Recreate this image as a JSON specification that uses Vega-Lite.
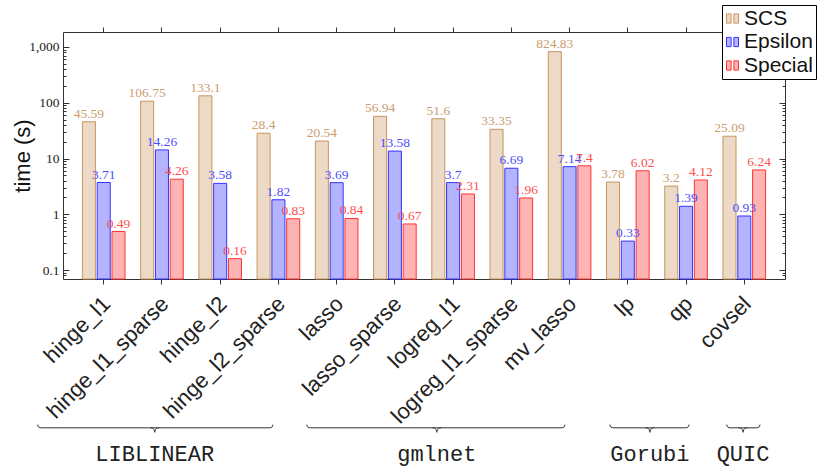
{
  "$schema": "https://vega.github.io/schema/vega-lite/v6.json",
  "width": 722,
  "height": 247,
  "autosize": {"type": "none"},
  "padding": {"left": 63, "top": 32, "right": 33, "bottom": 189},
  "background": "white",
  "config": {
    "view": {"stroke": null},
    "axis": {"domainColor": "#333", "tickColor": "#333", "domainWidth": 1, "tickWidth": 1, "grid": false}
  },
  "datasets": {
    "times": [
      {"cat": "hinge_l1", "solver": "SCS", "time": 45.59},
      {"cat": "hinge_l1", "solver": "Epsilon", "time": 3.71},
      {"cat": "hinge_l1", "solver": "Special", "time": 0.49},
      {"cat": "hinge_l1_sparse", "solver": "SCS", "time": 106.75},
      {"cat": "hinge_l1_sparse", "solver": "Epsilon", "time": 14.26},
      {"cat": "hinge_l1_sparse", "solver": "Special", "time": 4.26},
      {"cat": "hinge_l2", "solver": "SCS", "time": 133.1},
      {"cat": "hinge_l2", "solver": "Epsilon", "time": 3.58},
      {"cat": "hinge_l2", "solver": "Special", "time": 0.16},
      {"cat": "hinge_l2_sparse", "solver": "SCS", "time": 28.4},
      {"cat": "hinge_l2_sparse", "solver": "Epsilon", "time": 1.82},
      {"cat": "hinge_l2_sparse", "solver": "Special", "time": 0.83},
      {"cat": "lasso", "solver": "SCS", "time": 20.54},
      {"cat": "lasso", "solver": "Epsilon", "time": 3.69},
      {"cat": "lasso", "solver": "Special", "time": 0.84},
      {"cat": "lasso_sparse", "solver": "SCS", "time": 56.94},
      {"cat": "lasso_sparse", "solver": "Epsilon", "time": 13.58},
      {"cat": "lasso_sparse", "solver": "Special", "time": 0.67},
      {"cat": "logreg_l1", "solver": "SCS", "time": 51.6},
      {"cat": "logreg_l1", "solver": "Epsilon", "time": 3.7},
      {"cat": "logreg_l1", "solver": "Special", "time": 2.31},
      {"cat": "logreg_l1_sparse", "solver": "SCS", "time": 33.35},
      {"cat": "logreg_l1_sparse", "solver": "Epsilon", "time": 6.69},
      {"cat": "logreg_l1_sparse", "solver": "Special", "time": 1.96},
      {"cat": "mv_lasso", "solver": "SCS", "time": 824.83},
      {"cat": "mv_lasso", "solver": "Epsilon", "time": 7.14},
      {"cat": "mv_lasso", "solver": "Special", "time": 7.4},
      {"cat": "lp", "solver": "SCS", "time": 3.78},
      {"cat": "lp", "solver": "Epsilon", "time": 0.33},
      {"cat": "lp", "solver": "Special", "time": 6.02},
      {"cat": "qp", "solver": "SCS", "time": 3.2},
      {"cat": "qp", "solver": "Epsilon", "time": 1.39},
      {"cat": "qp", "solver": "Special", "time": 4.12},
      {"cat": "covsel", "solver": "SCS", "time": 25.09},
      {"cat": "covsel", "solver": "Epsilon", "time": 0.93},
      {"cat": "covsel", "solver": "Special", "time": 6.24}
    ],
    "groups": [
      {"group": "LIBLINEAR", "start": -1.134, "mid": 0.876, "end": 2.904},
      {"group": "gmlnet", "start": 3.488, "mid": 5.72, "end": 7.92},
      {"group": "Gorubi", "start": 8.694, "mid": 9.38, "end": 10.05},
      {"group": "QUIC", "start": 10.70, "mid": 10.98, "end": 11.27}
    ]
  },
  "layer": [
    {
      "data": {"name": "times"},
      "resolve": {"axis": {"x": "independent", "y": "independent"}},
      "layer": [
        {
          "mark": {"type": "bar", "strokeWidth": 1},
          "encoding": {
            "x": {
              "field": "cat", "type": "nominal", "sort": null, "title": null,
              "scale": {"paddingInner": 0.268, "paddingOuter": 0.333},
              "axis": {
                "orient": "bottom", "labelAngle": -45, "labelAlign": "right", "labelBaseline": "middle",
                "labelFont": "Liberation Sans", "labelFontSize": 22, "labelColor": "#222",
                "labelPadding": 16, "labelOffset": 3, "tickSize": 5, "labelOverlap": false, "labelLimit": 400, "labelBound": false
              }
            },
            "xOffset": {
              "field": "solver", "type": "nominal",
              "scale": {"domain": ["SCS", "Epsilon", "Special"], "paddingInner": 0.12, "paddingOuter": 0}
            },
            "y": {
              "field": "time", "type": "quantitative", "title": "time (s)", "stack": null,
              "scale": {"type": "log", "domain": [0.069, 1857], "nice": false},
              "axis": {
                "orient": "left",
                "values": [0.08, 0.09, 0.1, 0.2, 0.3, 0.4, 0.5, 0.6, 0.7, 0.8, 0.9, 1, 2, 3, 4, 5, 6, 7, 8, 9, 10, 20, 30, 40, 50, 60, 70, 80, 90, 100, 200, 300, 400, 500, 600, 700, 800, 900, 1000],
                "labelExpr": "indexof([0.1, 1, 10, 100, 1000], datum.value) >= 0 ? format(datum.value, ',') : ''",
                "tickSize": {"condition": {"test": "indexof([0.1, 1, 10, 100, 1000], datum.value) >= 0", "value": -6}, "value": -3},
                "labelPadding": 10,
                "labelFont": "Liberation Serif", "labelFontSize": 13.5, "labelColor": "#222",
                "labelOverlap": false, "labelBound": false,
                "titleFont": "Liberation Sans", "titleFontSize": 22, "titleFontWeight": "normal", "titleColor": "#111",
                "titleX": -41, "titleY": 123.5, "titleAngle": -90, "titleAlign": "center", "titleBaseline": "middle"
              }
            },
            "y2": {"datum": 0.069},
            "fill": {
              "field": "solver", "type": "nominal",
              "scale": {"domain": ["SCS", "Epsilon", "Special"], "range": ["#ecd9c6", "#b3b3ff", "#ffb3b3"]},
              "legend": {
                "title": null, "orient": "none", "legendX": 659, "legendY": -27,
                "strokeColor": "#000", "fillColor": "#fff", "padding": 3, "rowPadding": 1.5,
                "symbolType": "M-1,-0.77H-0.23V0.77H-1Z M0.23,-0.77H1V0.77H0.23Z",
                "symbolSize": 144, "symbolStrokeWidth": 1, "symbolOffset": -3,
                "labelFont": "Liberation Sans", "labelFontSize": 21, "labelColor": "#111",
                "labelOffset": 1, "labelLimit": 200
              }
            },
            "stroke": {
              "field": "solver", "type": "nominal",
              "scale": {"domain": ["SCS", "Epsilon", "Special"], "range": ["#c8955f", "#3333ff", "#ff3333"]},
              "legend": {
                "title": null, "orient": "none", "legendX": 659, "legendY": -27,
                "strokeColor": "#000", "fillColor": "#fff", "padding": 3, "rowPadding": 1.5,
                "symbolType": "M-1,-0.77H-0.23V0.77H-1Z M0.23,-0.77H1V0.77H0.23Z",
                "symbolSize": 144, "symbolStrokeWidth": 1, "symbolOffset": -3,
                "labelFont": "Liberation Sans", "labelFontSize": 21, "labelColor": "#111",
                "labelOffset": 1, "labelLimit": 200
              }
            }
          }
        },
        {
          "mark": {"type": "text", "dy": -4, "baseline": "alphabetic", "font": "Liberation Serif", "fontSize": 13.5},
          "encoding": {
            "x": {"field": "cat", "type": "nominal", "sort": null, "axis": null},
            "xOffset": {"field": "solver", "type": "nominal"},
            "y": {"field": "time", "type": "quantitative", "axis": null, "stack": null},
            "text": {"field": "time", "type": "quantitative"},
            "color": {
              "field": "solver", "type": "nominal", "legend": null,
              "scale": {"domain": ["SCS", "Epsilon", "Special"], "range": ["#cc9d6e", "#4d4dff", "#ff4d4d"]}
            }
          }
        },
        {
          "mark": {"type": "point", "opacity": 0},
          "encoding": {
            "x": {
              "field": "cat", "type": "nominal", "sort": null, "title": null,
              "axis": {"orient": "top", "labels": false, "tickSize": 5}
            },
            "y": {
              "field": "time", "type": "quantitative", "title": null, "stack": null,
              "axis": {
                "orient": "right", "labels": false,
                "values": [0.08, 0.09, 0.1, 0.2, 0.3, 0.4, 0.5, 0.6, 0.7, 0.8, 0.9, 1, 2, 3, 4, 5, 6, 7, 8, 9, 10, 20, 30, 40, 50, 60, 70, 80, 90, 100, 200, 300, 400, 500, 600, 700, 800, 900, 1000],
                "tickSize": {"condition": {"test": "indexof([0.1, 1, 10, 100, 1000], datum.value) >= 0", "value": -6}, "value": -3}
              }
            }
          }
        }
      ]
    },
    {
      "data": {"name": "groups"},
      "encoding": {
        "x": {"field": "mid", "type": "quantitative", "scale": {"domain": [-0.7, 11.7], "nice": false, "zero": false}, "axis": null}
      },
      "layer": [
        {
          "mark": {"type": "rule", "stroke": "#333", "strokeWidth": 1, "xOffset": 4, "x2Offset": -4},
          "encoding": {
            "x": {"field": "start", "type": "quantitative", "scale": {"domain": [-0.7, 11.7], "nice": false, "zero": false}, "axis": null},
            "x2": {"field": "end"},
            "y": {"datum": -0.6025, "type": "quantitative", "scale": {"domain": [0, 1], "nice": false, "zero": false}, "axis": null}
          }
        },
        {
          "mark": {"type": "point", "shape": "M-1,0 C-0.4,0 -0.1,0.2 0,1 C0.1,0.2 0.4,0 1,0", "filled": false, "stroke": "#333", "strokeWidth": 1, "size": 81, "opacity": 1},
          "encoding": {
            "y": {"datum": -0.6025, "type": "quantitative", "axis": null}
          }
        },
        {
          "mark": {"type": "point", "shape": "M0,-0.8 C0,-0.2 0.3,0 1,0", "filled": false, "stroke": "#333", "strokeWidth": 1, "size": 64, "opacity": 1},
          "encoding": {
            "x": {"field": "start", "type": "quantitative", "axis": null},
            "y": {"datum": -0.6025, "type": "quantitative", "axis": null}
          }
        },
        {
          "mark": {"type": "point", "shape": "M0,-0.8 C0,-0.2 -0.3,0 -1,0", "filled": false, "stroke": "#333", "strokeWidth": 1, "size": 64, "opacity": 1},
          "encoding": {
            "x": {"field": "end", "type": "quantitative", "axis": null},
            "y": {"datum": -0.6025, "type": "quantitative", "axis": null}
          }
        },
        {
          "mark": {"type": "text", "font": "Liberation Mono", "fontSize": 22, "color": "#222", "baseline": "middle", "align": "center"},
          "encoding": {
            "y": {"datum": -0.7076, "type": "quantitative", "axis": null},
            "text": {"field": "group", "type": "nominal"}
          }
        }
      ]
    }
  ],
  "resolve": {"scale": {"x": "independent", "y": "independent"}}
}
